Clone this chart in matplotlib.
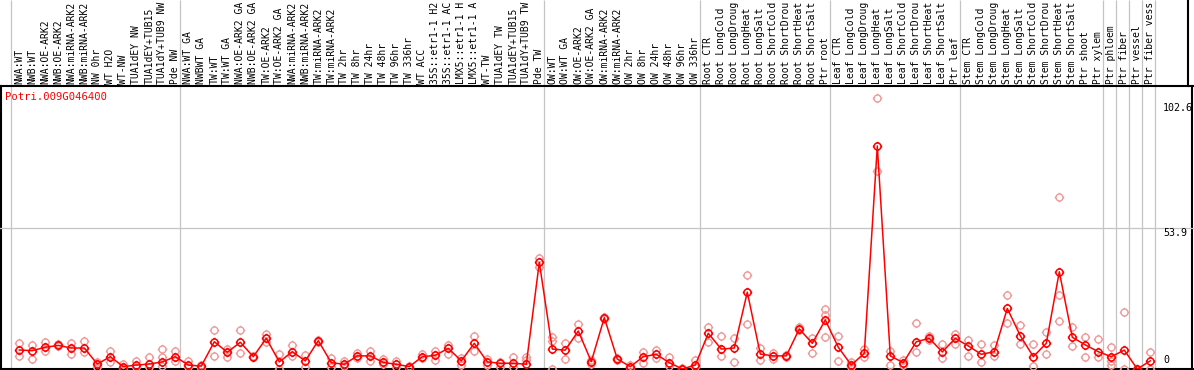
import matplotlib
matplotlib.use("Agg")
import matplotlib.pyplot as plt
from matplotlib.path import Path
import numpy as np

# ---------------- data ----------------
gene = "Potri.009G046400"

labels = [
    "NWA:WT", "NWB:WT", "NWA:OE-ARK2", "NWB:OE-ARK2", "NWA:miRNA-ARK2", "NWB:miRNA-ARK2",
    "NW 0hr", "WT H2O", "WT-NW", "TUA1dEY NW", "TUA1dEY+TUB15", "TUA1dY+TUB9 NW", "Pde NW",
    "NWA:WT GA", "NWBWT GA", "TW:WT", "TW:WT GA", "NWA:OE-ARK2 GA", "NWB:OE-ARK2 GA",
    "TW:OE-ARK2", "TW:OE-ARK2 GA", "NWA:miRNA-ARK2", "NWB:miRNA-ARK2", "TW:miRNA-ARK2",
    "TW:miRNA-ARK2", "TW 2hr", "TW 8hr", "TW 24hr", "TW 48hr", "TW 96hr", "TW 336hr",
    "WT ACC", "35S::etr1-1 H2", "35S::etr1-1 AC", "LMX5::etr1-1 H", "LMX5::etr1-1 A",
    "WT-TW", "TUA1dEY TW", "TUA1dEY+TUB15", "TUA1dY+TUB9 TW", "Pde TW",
    "OW:WT", "OW:WT GA", "OW:OE-ARK2", "OW:OE-ARK2 GA", "OW:miRNA-ARK2", "OW:miRNA-ARK2",
    "OW 2hr", "OW 8hr", "OW 24hr", "OW 48hr", "OW 96hr", "OW 336hr",
    "Root CTR", "Root LongCold", "Root LongDroug", "Root LongHeat", "Root LongSalt",
    "Root ShortCold", "Root ShortDrou", "Root ShortHeat", "Root ShortSalt", "Ptr root",
    "Leaf CTR", "Leaf LongCold", "Leaf LongDroug", "Leaf LongHeat", "Leaf LongSalt",
    "Leaf ShortCold", "Leaf ShortDrou", "Leaf ShortHeat", "Leaf ShortSalt", "Ptr leaf",
    "Stem CTR", "Stem LongCold", "Stem LongDroug", "Stem LongHeat", "Stem LongSalt",
    "Stem ShortCold", "Stem ShortDrou", "Stem ShortHeat", "Stem ShortSalt",
    "Ptr shoot", "Ptr xylem", "Ptr phloem", "Ptr fiber", "Ptr vessel", "Ptr fiber vess",
]

means = [
    7.25, 7.0, 8.3, 9.0, 8.0, 8.0, 1.9, 4.7, 0.9, 1.5, 1.9, 2.7, 4.7,
    1.5, 1.1, 10.4, 6.4, 10.2, 4.7, 11.7, 2.7, 6.6, 3.1,
    10.8, 2.4, 1.8, 5.0, 5.0, 2.5, 1.8, 0.9, 4.7, 5.2,
    7.9, 3.1, 9.8, 2.7, 2.2, 2.2, 1.8, 40.7,
    7.6, 7.2, 14.5, 2.8, 19.6, 3.8, 0.9, 4.7, 5.6, 2.4, 0.0, 1.5,
    13.6, 7.6, 8.0, 29.3, 5.7, 5.0, 5.0, 15.3, 9.8, 18.7,
    8.3, 1.5, 6.0, 85.1, 5.0, 2.4, 10.4, 11.7, 6.5, 11.7,
    8.8, 5.6, 6.6, 23.1, 12.7, 4.7, 9.8, 37.1, 12.1, 9.2, 6.6, 4.7, 7.2, 0.0, 3.1,
]

replicates = [
    [10.0, 5.1], [9.2, 3.7], [10.4, 6.9], [9.4, 8.7], [10.0, 5.7], [10.7, 6.6],
    [2.5, 0.8], [6.9, 2.8], [1.9, 0.3], [3.2, 0.6], [4.6, 0.9], [7.5, 4.5, 1.0], [6.9, 3.2],
    [3.2, 0.9], [1.5, 0.3], [14.9, 5.0], [7.6, 4.7], [14.9, 6.0], [5.0, 4.5], [13.4, 10.4],
    [5.7, 0.0], [9.2, 5.0], [5.3, 0.9], [11.2, 10.4], [4.3, 0.9], [3.1, 1.1], [6.0, 4.1],
    [7.0, 3.1], [3.7, 1.9], [3.2, 0.9], [1.2, 0.3], [5.7, 4.1], [7.0, 3.4], [9.2, 5.7],
    [4.1, 1.5], [12.7, 7.0], [3.7, 1.5], [2.8, 0.6], [4.5, 0.6], [4.7, 3.4], [42.2, 39.0],
    [12.1, 10.8, 0.0], [10.0, 3.7], [17.0, 11.7], [3.5, 2.0], [20.0, 19.2], [4.2, 3.4],
    [1.5, 0.3], [6.6, 2.2], [7.2, 4.1], [4.7, 1.1], [0.3, 0.0], [3.4, 0.6],
    [16.1, 10.4], [12.7, 5.0], [11.9, 2.5], [35.9, 17.0], [8.1, 3.4], [6.0, 3.7],
    [5.3, 4.7], [16.1, 14.9], [11.9, 6.0], [22.9, 20.6, 12.1],
    [12.7, 3.1], [2.8, 0.6], [7.5, 4.7], [103.3, 75.7], [7.0, 1.5], [3.4, 1.5],
    [17.6, 6.6], [12.6, 11.1], [9.4, 4.1], [13.4, 9.4],
    [11.1, 5.1], [9.4, 2.8], [9.2, 5.1], [28.2, 17.4], [16.7, 9.4], [9.4, 1.1],
    [14.2, 5.6], [65.8, 28.2, 18.4], [15.9, 8.9], [12.1, 4.7], [11.3, 4.7],
    [8.3, 3.1, 1.5], [21.6, 0.0], [0.0], [6.6, 0.0],
]

group_ends = [12, 40, 52, 62, 72, 83, 84, 85, 86, 87]
ytick_values = [102.6, 53.9, 0]
ytick_text = ["102.6", "53.9", "0"]
grid_value = 53.9

# ---------------- layout ----------------
W, H = 1194, 370
STEP, X0 = 13.0, 19.3
XL = (-X0 / STEP, (W - X0) / STEP)


def px2x(px):
    return (px - X0) / STEP


HEADER = 86
BOTTOM = 369
YTOP = (BOTTOM - HEADER) / 2.621
MONO = "DejaVu Sans Mono"

fig = plt.figure(figsize=(W / 100, H / 100), dpi=100)
bg = fig.add_axes([0, 0, 1, 1])
bg.set_xlim(XL)
bg.set_ylim(H, 0)
bg.axis("off")

ax = fig.add_axes([0, (H - BOTTOM) / H, 1, (BOTTOM - HEADER) / H])
ax.set_xlim(XL)
ax.set_ylim(0, YTOP)
ax.axis("off")
ax.patch.set_alpha(0)

gray = "#c4c4c4"
# group separators
seps = [px2x(11)] + [e + 0.37 for e in group_ends]
bg.vlines(seps, 0, BOTTOM, color=gray, lw=0.9, zorder=1)
# horizontal grid line
ax.axhline(grid_value, color=gray, lw=0.9, zorder=1)

# frame
bg.plot(XL, [HEADER, HEADER], color="black", lw=1.5, zorder=3, solid_capstyle="butt")
bg.plot(XL, [BOTTOM, BOTTOM], color="black", lw=1.5, zorder=3, solid_capstyle="butt")
bg.plot([px2x(0.8)] * 2, [HEADER, BOTTOM], color="black", lw=1.5, zorder=3)
bg.plot([px2x(1192)] * 2, [HEADER, BOTTOM], color="black", lw=1.5, zorder=3)
bg.plot([px2x(1188)] * 2, [0, HEADER], color="black", lw=1.5, zorder=3)

# header labels
for i, lab in enumerate(labels):
    bg.text(i, 84, lab, rotation=90, ha="center", va="bottom",
            fontsize=7.0, family=MONO, color="black")

# title
bg.text(px2x(5), 92, gene, color="red", ha="left", va="top",
        fontsize=7.6, family=MONO)

# marker: circle with four small ticks
circ = Path.unit_circle()
stub = Path([(0, 1.0), (0, 1.35), (0, -1.0), (0, -1.35),
             (1.0, 0), (1.35, 0), (-1.0, 0), (-1.35, 0)],
            [Path.MOVETO, Path.LINETO] * 4)
gear = Path.make_compound_path(circ, stub)

x = np.arange(len(means))
rx, ry = [], []
for i, reps in enumerate(replicates):
    for v in reps:
        rx.append(i)
        ry.append(v)

ax.plot(rx, ry, linestyle="none", marker=gear, markersize=6.8,
        markerfacecolor="none", markeredgecolor="#ee9a9a", markeredgewidth=1.0,
        zorder=2)
ax.plot(x, means, color="red", lw=1.1, zorder=3)
ax.plot(x, means, linestyle="none", marker=gear, markersize=6.8,
        markerfacecolor="none", markeredgecolor="red", markeredgewidth=1.1,
        zorder=4)

# y value labels
xt = px2x(1163)
ax.annotate(ytick_text[0], (xt, ytick_values[0]), xytext=(0, -1.8),
            textcoords="offset points", ha="left", va="top",
            fontsize=7.2, family=MONO, annotation_clip=False)
ax.annotate(ytick_text[1], (xt, ytick_values[1]), xytext=(0, -0.4),
            textcoords="offset points", ha="left", va="top",
            fontsize=7.2, family=MONO, annotation_clip=False)
ax.annotate(ytick_text[2], (xt, ytick_values[2]), xytext=(0, 2.6),
            textcoords="offset points", ha="left", va="bottom",
            fontsize=7.2, family=MONO, annotation_clip=False)

fig.savefig("out.png", dpi=100)
